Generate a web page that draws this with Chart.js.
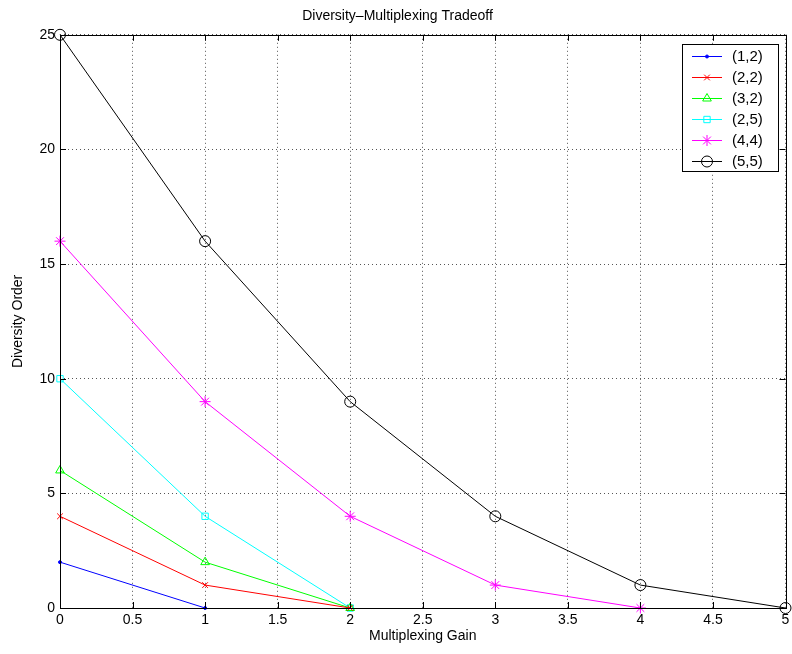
<!DOCTYPE html>
<html>
<head>
<meta charset="utf-8">
<script src="https://cdn.jsdelivr.net/npm/chart.js@4"></script>
<style>
  html, body { margin: 0; padding: 0; background: #fff; }
  #wrap { width: 792px; height: 654px; }
</style>
</head>
<body>
<div id="wrap"><canvas id="grafico" width="792" height="654"></canvas></div>
<script>
// gain multiplexing (eixo x)
const ganho = [0, 1, 2, 3, 4, 5];

// ordem de diversidade para cada configuracao (M,N)
const ordem12 = [2, 0];
const ordem22 = [4, 1, 0];
const ordem32 = [6, 2, 0];
const ordem25 = [10, 4, 0];
const ordem44 = [16, 9, 4, 1, 0];
const ordem55 = [25, 16, 9, 4, 1, 0];

const rotulos = ['(1,2)', '(2,2)', '(3,2)', '(2,5)', '(4,4)', '(5,5)'];
const xTicks = [0, 0.5, 1, 1.5, 2, 2.5, 3, 3.5, 4, 4.5, 5];
const yTicks = [0, 5, 10, 15, 20, 25];

const fonte = '"Liberation Sans", Arial, Helvetica, sans-serif';

function pontos(valores) {
    return valores.map((v, i) => ({ x: ganho[i], y: v }));
}

function serie(label, valores, cor, estilo, raio) {
    return {
        label: label,
        data: pontos(valores),
        borderColor: cor,
        backgroundColor: estilo === 'circle' && raio < 3 ? cor : 'rgba(0,0,0,0)',
        pointBorderColor: cor,
        pointStyle: estilo,
        pointRadius: raio,
        pointBorderWidth: 1,
        borderWidth: 1,
        tension: 0,
        clip: false
    };
}

// caixa, ticks para dentro e legenda no estilo matlab
const estiloMatlab = {
    id: 'estiloMatlab',
    afterDatasetsDraw(chart) {
        const ctx = chart.ctx;
        const a = chart.chartArea;
        const sx = chart.scales.x, sy = chart.scales.y;
        ctx.save();
        ctx.strokeStyle = '#000';
        ctx.lineWidth = 1;
        ctx.setLineDash([]);
        ctx.strokeRect(Math.round(a.left) + 0.5, Math.round(a.top) + 0.5,
            Math.round(a.right - a.left), Math.round(a.bottom - a.top));
        ctx.beginPath();
        xTicks.forEach(t => {
            const px = Math.round(sx.getPixelForValue(t)) + 0.5;
            ctx.moveTo(px, a.bottom); ctx.lineTo(px, a.bottom - 6);
            ctx.moveTo(px, a.top); ctx.lineTo(px, a.top + 6);
        });
        yTicks.forEach(t => {
            const py = Math.round(sy.getPixelForValue(t)) + 0.5;
            ctx.moveTo(a.left, py); ctx.lineTo(a.left + 6, py);
            ctx.moveTo(a.right, py); ctx.lineTo(a.right - 6, py);
        });
        ctx.stroke();

        // legenda
        const bx = 682, by = 44, bw = 96, bh = 127;
        ctx.fillStyle = '#fff';
        ctx.fillRect(bx, by, bw, bh);
        ctx.strokeRect(bx + 0.5, by + 0.5, bw, bh);
        ctx.font = '15px ' + fonte;
        ctx.textBaseline = 'middle';
        ctx.textAlign = 'left';
        chart.data.datasets.forEach((ds, i) => {
            const y = by + 12 + i * 21;
            ctx.strokeStyle = ds.borderColor;
            ctx.beginPath();
            ctx.moveTo(692, y + 0.5); ctx.lineTo(722, y + 0.5);
            ctx.stroke();
            ctx.fillStyle = ds.backgroundColor;
            Chart.helpers.drawPoint(ctx, {
                pointStyle: ds.pointStyle, radius: ds.pointRadius,
                borderWidth: 1, rotation: 0
            }, 707, y + 0.5);
            ctx.fillStyle = '#000';
            ctx.fillText(ds.label, 732, y + 1);
        });
        ctx.restore();
    }
};

function criarGrafico() {
    const ctx = document.getElementById('grafico').getContext('2d');
    new Chart(ctx, {
        type: 'line',
        data: {
            datasets: [
                serie(rotulos[0], ordem12, '#0000ff', 'circle', 1.5),
                serie(rotulos[1], ordem22, '#ff0000', 'crossRot', 4),
                serie(rotulos[2], ordem32, '#00ff00', 'triangle', 5),
                serie(rotulos[3], ordem25, '#00ffff', 'rect', 4.5),
                serie(rotulos[4], ordem44, '#ff00ff', 'star', 5.5),
                serie(rotulos[5], ordem55, '#000000', 'circle', 5.5)
            ]
        },
        options: {
            responsive: false,
            animation: false,
            layout: { padding: { top: 0, right: -3, left: 0, bottom: 0 } },
            plugins: {
                legend: { display: false },
                tooltip: { enabled: false },
                title: {
                    display: true,
                    text: 'Diversity\u2013Multiplexing Tradeoff',
                    color: '#000',
                    font: { family: fonte, size: 14, weight: 'normal' },
                    padding: { top: 8, bottom: 10 }
                }
            },
            scales: {
                x: {
                    type: 'linear',
                    min: 0, max: 5,
                    afterFit: s => { s.height = 46; s.paddingRight = 0; s.paddingLeft = 0; },
                    afterBuildTicks: s => { s.ticks = xTicks.map(v => ({ value: v })); },
                    ticks: {
                        color: '#000', font: { family: fonte, size: 14 }, padding: 4, maxRotation: 0,
                        callback: v => String(v)
                    },
                    grid: { color: '#555', lineWidth: 1, drawTicks: false },
                    border: { display: false, dash: [1, 3] },
                    title: {
                        display: true, text: 'Multiplexing Gain', color: '#000',
                        font: { family: fonte, size: 14 }, padding: { top: 0, bottom: 9 }
                    }
                },
                y: {
                    type: 'linear',
                    min: 0, max: 25,
                    afterFit: s => { s.width = 60; },
                    afterBuildTicks: s => { s.ticks = yTicks.map(v => ({ value: v })); },
                    ticks: {
                        color: '#000', font: { family: fonte, size: 14 }, padding: 5,
                        callback: v => String(v)
                    },
                    grid: { color: '#555', lineWidth: 1, drawTicks: false },
                    border: { display: false, dash: [1, 3] },
                    title: {
                        display: true, text: 'Diversity Order', color: '#000',
                        font: { family: fonte, size: 14 }, padding: { top: 10, bottom: 0 }
                    }
                }
            }
        },
        plugins: [estiloMatlab]
    });
}

window.addEventListener('DOMContentLoaded', criarGrafico);
</script>
</body>
</html>
